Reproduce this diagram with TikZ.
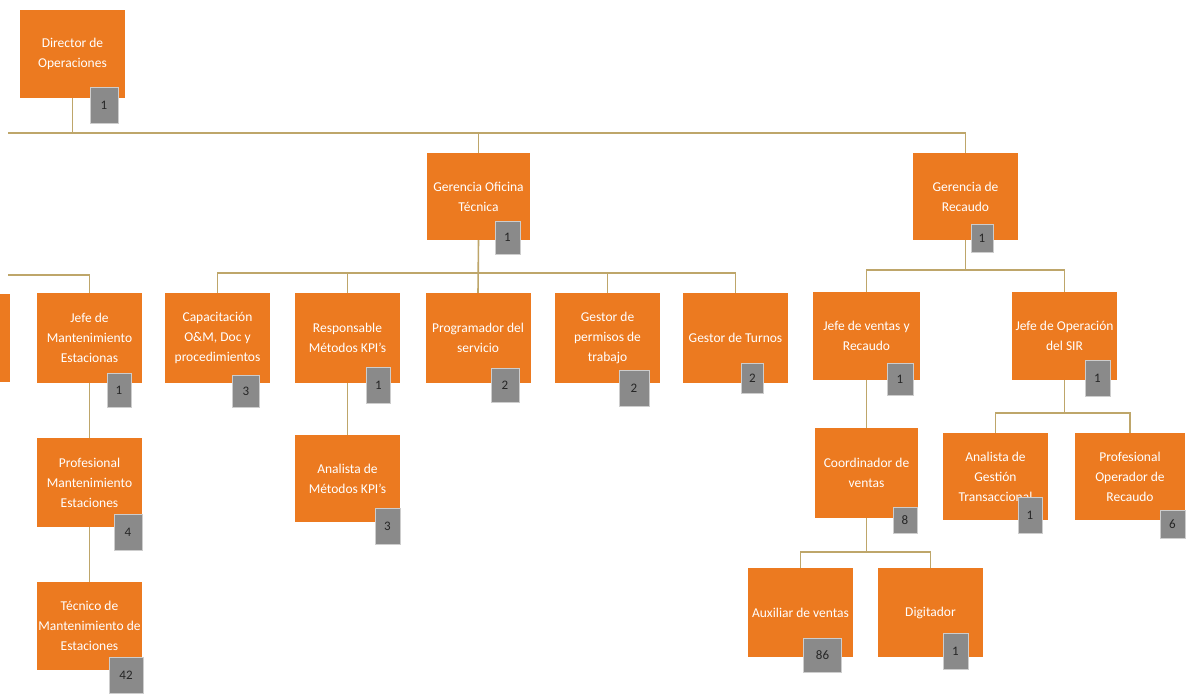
\documentclass[tikz,border=0pt]{standalone}
\usepackage{fontspec}
\setmainfont{Carlito}
\definecolor{orgc}{RGB}{236,122,32}
\definecolor{badgec}{RGB}{138,138,138}
\definecolor{badgeedge}{RGB}{205,205,205}
\definecolor{linec}{RGB}{190,166,106}
\pgfdeclarelayer{bg}
\pgfsetlayers{bg,main}
\tikzset{
  box/.style={fill=orgc, text=white, minimum width=105, minimum height=88, inner sep=0pt, align=center, font=\fontsize{13.5}{20}\selectfont},
  badge/.style={fill=badgec, draw=badgeedge, line width=0.8, minimum width=25, minimum height=33, inner sep=0pt, font=\fontsize{13}{13}\selectfont, text=black!85},
  conn/.style={draw=linec, line width=1.6}
}
\begin{document}
\begin{tikzpicture}[x=1pt,y=-1pt]
\useasboundingbox (0,0) rectangle (1193,694);
\clip (0,0) rectangle (1193,694);
% boxes
\node[box] (part) at (-42.5,338) {};
\node[box] (dir) at (72.5,54) {Director de\\Operaciones};
\node[box, minimum width=103, minimum height=87] (gof) at (478.5,196.5) {Gerencia Oficina\\Técnica};
\node[box, minimum width=105, minimum height=87] (grec) at (965.5,196.5) {Gerencia de\\Recaudo};
\node[box, minimum height=90] (jme) at (89.5,338) {Jefe de\\Mantenimiento\\Estacionas};
\node[box, minimum height=90] (cap) at (217.5,338) {Capacitación\\O\&M, Doc y\\procedimientos};
\node[box, minimum height=90] (rkpi) at (347.5,338) {Responsable\\Métodos KPI's};
\node[box, minimum height=90] (prog) at (478,338) {Programador del\\servicio};
\node[box, minimum height=90] (gper) at (607.5,338) {Gestor de\\permisos de\\trabajo};
\node[box, minimum height=90] (gtur) at (735.5,338) {Gestor de Turnos};
\node[box, minimum width=107] (jven) at (866.5,336) {Jefe de ventas y\\Recaudo};
\node[box] (jsir) at (1064.5,336) {Jefe de Operación\\del SIR};
\node[box, minimum height=89] (pme) at (89.5,482.5) {Profesional\\Mantenimiento\\Estaciones};
\node[box] (tme) at (89.5,626) {Técnico de\\Mantenimiento de\\Estaciones};
\node[box, minimum height=87] (akpi) at (347.5,478.5) {Analista de\\Métodos KPI's};
\node[box, minimum width=103, minimum height=90] (coord) at (866.5,473) {Coordinador de\\ventas};
\node[box, minimum height=87] (agt) at (995.5,476.5) {Analista de\\Gestión\\Transaccional};
\node[box, minimum width=110, minimum height=87] (por) at (1130,476.5) {Profesional\\Operador de\\Recaudo};
\node[box, minimum height=89] (aux) at (800.5,612.5) {Auxiliar de ventas};
\node[box, minimum height=89] (dig) at (930.5,612.5) {Digitador};
% badges
\node[badge, minimum width=28, minimum height=36] (bdir) at (104,105) {1};
\node[badge] (bgof) at (507.5,237.5) {1};
\node[badge, minimum width=22, minimum height=28] (bgrec) at (982,238.5) {1};
\node[badge, minimum width=24, minimum height=34] (bjme) at (119,390) {1};
\node[badge, minimum width=27, minimum height=32] (bcap) at (246,391) {3};
\node[badge, minimum width=24, minimum height=36] (brkpi) at (378.5,385) {1};
\node[badge, minimum width=28, minimum height=34] (bprog) at (505,385) {2};
\node[badge, minimum width=30, minimum height=36] (bgper) at (634,388) {2};
\node[badge, minimum width=22, minimum height=30] (bgtur) at (752.5,378) {2};
\node[badge, minimum width=26, minimum height=32] (bjven) at (900,379) {1};
\node[badge, minimum width=25, minimum height=36] (bjsir) at (1097.5,378) {1};
\node[badge, minimum width=28, minimum height=36] (bpme) at (128,532) {4};
\node[badge, minimum width=34, minimum height=36] (btme) at (126,675) {42};
\node[badge, minimum width=25, minimum height=36] (bakpi) at (387.5,526) {3};
\node[badge, minimum width=24, minimum height=26] (bcoord) at (905,520.5) {8};
\node[badge, minimum width=24, minimum height=36] (bagt) at (1030,515) {1};
\node[badge, minimum width=25, minimum height=28] (bpor) at (1172.5,524) {6};
\node[badge, minimum width=38, minimum height=34] (baux) at (822.5,655) {86};
\node[badge, minimum width=25, minimum height=36] (bdig) at (955.5,651.5) {1};
% bus coordinates
\coordinate (topbus) at (8,133);
\coordinate (lbus) at (8,275);
\coordinate (gbus) at (478,273);
\coordinate (rbus) at (965.5,270);
\coordinate (cbus) at (866.5,552);
\coordinate (sbus) at (1064.5,413);
\begin{pgfonlayer}{bg}
\fill[white] (0,0) rectangle (1193,694);
\draw[conn] (topbus) -| (grec.north);
\draw[conn] (dir.south) -- (dir.south |- topbus);
\draw[conn] (gof.north |- topbus) -- (gof.north);
\draw[conn] (gof.south) -- (prog.north);
\draw[conn] (cap.north) |- (gbus) -| (gtur.north);
\draw[conn] (rkpi.north) -- (rkpi.north |- gbus);
\draw[conn] (gper.north) -- (gper.north |- gbus);
\draw[conn] (lbus) -| (jme.north);
\draw[conn] (jme) -- (pme);
\draw[conn] (pme) -- (tme);
\draw[conn] (rkpi) -- (akpi);
\draw[conn] (grec.south) -- (rbus);
\draw[conn] (jven.north) |- (rbus) -| (jsir.north);
\draw[conn] (jven) -- (coord);
\draw[conn] (coord.south) -- (cbus);
\draw[conn] (aux.north) |- (cbus) -| (dig.north);
\draw[conn] (jsir.south) -- (sbus);
\draw[conn] (agt.north) |- (sbus) -| (por.north);
\end{pgfonlayer}
\end{tikzpicture}
\end{document}
